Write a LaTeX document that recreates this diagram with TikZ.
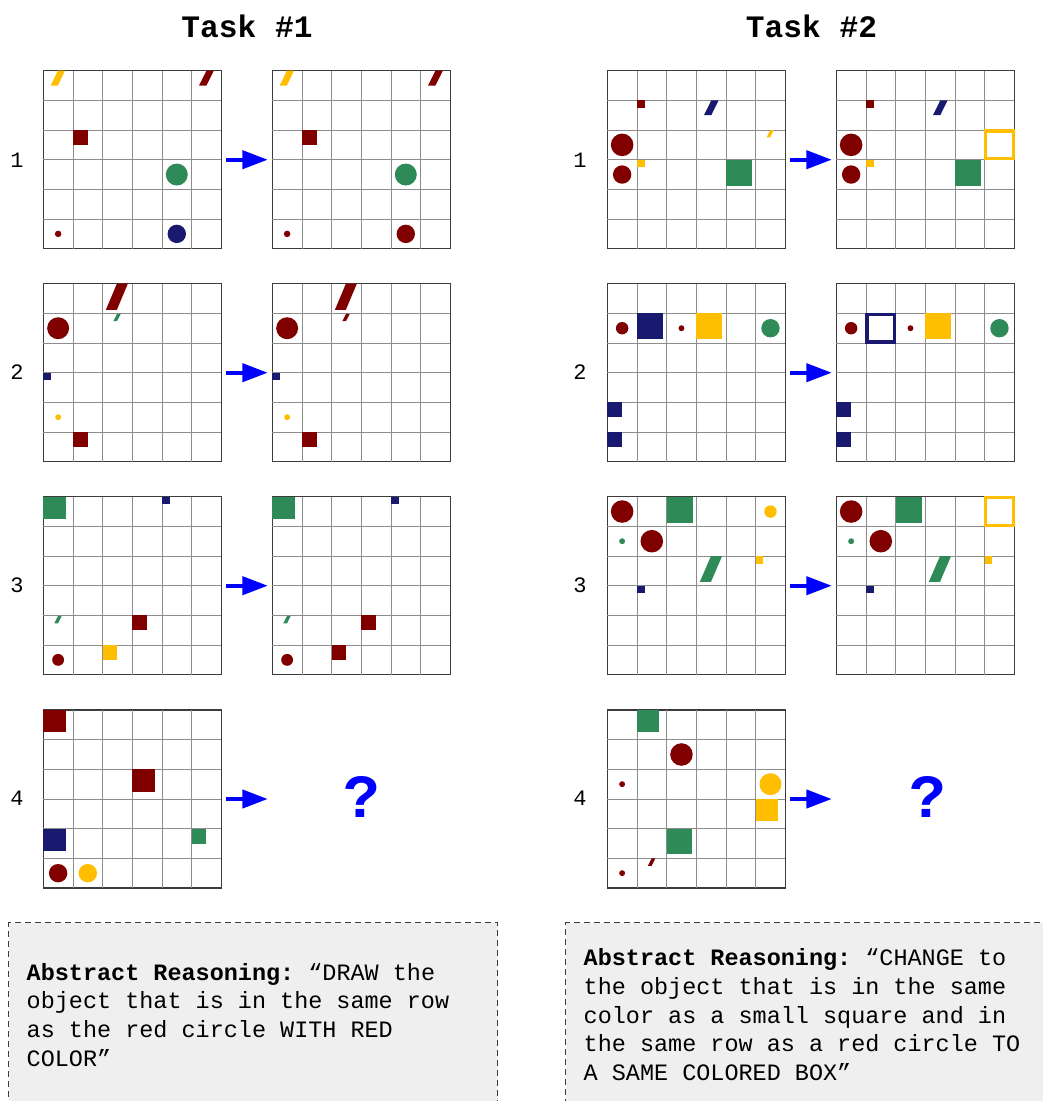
\documentclass[tikz,border=0pt]{standalone}
\usepackage{fontspec}
\setmainfont{Liberation Mono}
\usetikzlibrary{arrows.meta,positioning}
\definecolor{arcred}{RGB}{128,0,0}
\definecolor{arcgreen}{RGB}{46,139,87}
\definecolor{arcnavy}{RGB}{25,25,112}
\definecolor{arcamber}{RGB}{255,191,0}
\definecolor{arcblue}{RGB}{0,0,255}
\definecolor{arcline}{RGB}{140,140,140}
\definecolor{arcframe}{RGB}{60,60,60}
\definecolor{arcpanel}{RGB}{239,239,239}

% board contents, in cell units (y points down)
\newcommand{\cellgrid}{%
  \foreach \k in {1,...,5} {
    \draw[gridline] (\k,0) -- (\k,6);
    \draw[gridline] (0,\k) -- (6,\k);
  }}
\newcommand{\sqr}[4]{\fill[#1] (#2,#3) rectangle ++(#4,#4);}
\newcommand{\disc}[4]{\fill[#1] (#2,#3) circle[radius=#4];}
\newcommand{\slant}[5]{\fill[#1] (#2,{#3+#5}) -- ++({#4/2},0) -- ({#2+#4},#3) -- ({#2+#4/2},#3) -- cycle;}
\newcommand{\hollow}[3]{\draw[#1, line width=2.5pt] ({#2+0.03},{#3+0.03}) rectangle ({#2+0.97},{#3+0.97});}

\begin{document}
\frenchspacing
\begin{tikzpicture}[x=0.75pt, y=-0.75pt,
  board/.style={rectangle, draw=arcframe, line width=0.8pt, minimum size=133.5pt,
                inner sep=0pt, outer sep=0pt},
  cellunits/.style={x=22.25pt, y=-22.25pt},
  gridline/.style={draw=arcline, line width=0.6pt},
  rowlbl/.style={font=\fontsize{16.5pt}{17pt}\selectfont},
  title/.style={font=\fontsize{23.4pt}{24pt}\selectfont\bfseries},
  qmark/.style={font=\fontsize{46pt}{46pt}\selectfont\bfseries, text=arcblue},
  flow/.style={-{Triangle[length=19pt, width=13.5pt]}, line width=3pt, draw=arcblue,
               shorten <=3.4pt, shorten >=3.4pt},
  reason/.style={rectangle, draw=arcframe, dash pattern=on 4.5pt off 3pt, line width=1.1pt,
                 fill=arcpanel, anchor=north west, minimum height=138pt, inner xsep=13.5pt,
                 align=left, font=\fontsize{17.6pt}{21.5pt}\selectfont,
                 execute at begin node={\spaceskip=0pt\xspaceskip=0pt}}
]
\useasboundingbox (0,0) rectangle (1043,1101);
\clip (0,0) rectangle (1043,1101);

% Titles
\node[title] (task1) at (247,26) {Task \#1};
\node[title] (task2) at (811.5,26) {Task \#2};

% Row numbers
\node[rowlbl] (t1n1) at (17,160) {1};
\node[rowlbl] (t1n2) at (17,372) {2};
\node[rowlbl] (t1n3) at (17,585) {3};
\node[rowlbl] (t1n4) at (17,798) {4};
\node[rowlbl] (t2n1) at (580,160) {1};
\node[rowlbl] (t2n2) at (580,372) {2};
\node[rowlbl] (t2n3) at (580,585) {3};
\node[rowlbl] (t2n4) at (580,798) {4};

% Task 1 boards
\node[board] (t1in1) at (132.3,159.7) {};
\node[board, right=38.25pt of t1in1] (t1out1) {};
\node[board] (t1in2) at (132.3,372.7) {};
\node[board, right=38.25pt of t1in2] (t1out2) {};
\node[board] (t1in3) at (132.3,585.7) {};
\node[board, right=38.25pt of t1in3] (t1out3) {};
\node[board] (t1in4) at (132.3,799) {};
\coordinate (t1slot4) at (272.3,799);
\node[qmark] (t1q) at (362,797) {?};

\begin{scope}[shift={(t1in1.north west)}, cellunits]
  \cellgrid
  \slant{arcamber}{0.25}{0}{0.48}{0.5}
  \slant{arcred}{5.25}{0}{0.5}{0.5}
  \sqr{arcred}{1}{2}{0.5}
  \disc{arcgreen}{4.5}{3.5}{0.37}
  \disc{arcnavy}{4.5}{5.5}{0.31}
  \disc{arcred}{0.5}{5.5}{0.11}
\end{scope}
\begin{scope}[shift={(t1out1.north west)}, cellunits]
  \cellgrid
  \slant{arcamber}{0.25}{0}{0.48}{0.5}
  \slant{arcred}{5.25}{0}{0.5}{0.5}
  \sqr{arcred}{1}{2}{0.5}
  \disc{arcgreen}{4.5}{3.5}{0.37}
  \disc{arcred}{4.5}{5.5}{0.31}
  \disc{arcred}{0.5}{5.5}{0.11}
\end{scope}

\begin{scope}[shift={(t1in2.north west)}, cellunits]
  \cellgrid
  \slant{arcred}{2.11}{0}{0.74}{0.88}
  \slant{arcgreen}{2.36}{1.02}{0.25}{0.24}
  \disc{arcred}{0.5}{1.5}{0.37}
  \sqr{arcnavy}{0}{3}{0.26}
  \disc{arcamber}{0.5}{4.5}{0.1}
  \sqr{arcred}{1}{5}{0.5}
\end{scope}
\begin{scope}[shift={(t1out2.north west)}, cellunits]
  \cellgrid
  \slant{arcred}{2.11}{0}{0.74}{0.88}
  \slant{arcred}{2.36}{1.02}{0.25}{0.24}
  \disc{arcred}{0.5}{1.5}{0.37}
  \sqr{arcnavy}{0}{3}{0.26}
  \disc{arcamber}{0.5}{4.5}{0.1}
  \sqr{arcred}{1}{5}{0.5}
\end{scope}

\begin{scope}[shift={(t1in3.north west)}, cellunits]
  \cellgrid
  \sqr{arcgreen}{0}{0}{0.75}
  \sqr{arcnavy}{4}{0}{0.26}
  \slant{arcgreen}{0.37}{4.02}{0.25}{0.25}
  \sqr{arcred}{3}{4}{0.5}
  \disc{arcred}{0.5}{5.5}{0.2}
  \sqr{arcamber}{2}{5}{0.5}
\end{scope}
\begin{scope}[shift={(t1out3.north west)}, cellunits]
  \cellgrid
  \sqr{arcgreen}{0}{0}{0.75}
  \sqr{arcnavy}{4}{0}{0.26}
  \slant{arcgreen}{0.37}{4.02}{0.25}{0.25}
  \sqr{arcred}{3}{4}{0.5}
  \disc{arcred}{0.5}{5.5}{0.2}
  \sqr{arcred}{2}{5}{0.5}
\end{scope}

\begin{scope}[shift={(t1in4.north west)}, cellunits]
  \cellgrid
  \sqr{arcred}{0}{0}{0.75}
  \sqr{arcred}{3}{2}{0.75}
  \sqr{arcnavy}{0}{4}{0.75}
  \sqr{arcgreen}{5}{4}{0.5}
  \disc{arcred}{0.5}{5.5}{0.31}
  \disc{arcamber}{1.5}{5.5}{0.31}
\end{scope}

% Task 2 boards
\node[board] (t2in1) at (696.3,159.7) {};
\node[board, right=38.25pt of t2in1] (t2out1) {};
\node[board] (t2in2) at (696.3,372.7) {};
\node[board, right=38.25pt of t2in2] (t2out2) {};
\node[board] (t2in3) at (696.3,585.7) {};
\node[board, right=38.25pt of t2in3] (t2out3) {};
\node[board] (t2in4) at (696.3,799) {};
\coordinate (t2slot4) at (836.3,799);
\node[qmark] (t2q) at (928,797) {?};

\begin{scope}[shift={(t2in1.north west)}, cellunits]
  \cellgrid
  \sqr{arcred}{1}{1}{0.26}
  \slant{arcnavy}{3.26}{1}{0.49}{0.5}
  \slant{arcamber}{5.37}{2}{0.24}{0.25}
  \disc{arcred}{0.5}{2.5}{0.38}
  \disc{arcred}{0.5}{3.5}{0.31}
  \sqr{arcamber}{1}{3}{0.26}
  \sqr{arcgreen}{4}{3}{0.87}
\end{scope}
\begin{scope}[shift={(t2out1.north west)}, cellunits]
  \cellgrid
  \sqr{arcred}{1}{1}{0.26}
  \slant{arcnavy}{3.26}{1}{0.49}{0.5}
  \hollow{arcamber}{5}{2}
  \disc{arcred}{0.5}{2.5}{0.38}
  \disc{arcred}{0.5}{3.5}{0.31}
  \sqr{arcamber}{1}{3}{0.26}
  \sqr{arcgreen}{4}{3}{0.87}
\end{scope}

\begin{scope}[shift={(t2in2.north west)}, cellunits]
  \cellgrid
  \disc{arcred}{0.5}{1.5}{0.21}
  \sqr{arcnavy}{1}{1}{0.87}
  \disc{arcred}{2.5}{1.5}{0.1}
  \sqr{arcamber}{3}{1}{0.87}
  \disc{arcgreen}{5.5}{1.5}{0.31}
  \sqr{arcnavy}{0}{4}{0.5}
  \sqr{arcnavy}{0}{5}{0.5}
\end{scope}
\begin{scope}[shift={(t2out2.north west)}, cellunits]
  \cellgrid
  \disc{arcred}{0.5}{1.5}{0.21}
  \hollow{arcnavy}{1}{1}
  \disc{arcred}{2.5}{1.5}{0.1}
  \sqr{arcamber}{3}{1}{0.87}
  \disc{arcgreen}{5.5}{1.5}{0.31}
  \sqr{arcnavy}{0}{4}{0.5}
  \sqr{arcnavy}{0}{5}{0.5}
\end{scope}

\begin{scope}[shift={(t2in3.north west)}, cellunits]
  \cellgrid
  \disc{arcred}{0.5}{0.5}{0.38}
  \sqr{arcgreen}{2}{0}{0.88}
  \disc{arcamber}{5.5}{0.5}{0.21}
  \disc{arcgreen}{0.5}{1.5}{0.1}
  \disc{arcred}{1.5}{1.5}{0.38}
  \slant{arcgreen}{3.12}{2}{0.75}{0.87}
  \sqr{arcamber}{5}{2}{0.26}
  \sqr{arcnavy}{1}{3}{0.26}
\end{scope}
\begin{scope}[shift={(t2out3.north west)}, cellunits]
  \cellgrid
  \disc{arcred}{0.5}{0.5}{0.38}
  \sqr{arcgreen}{2}{0}{0.88}
  \hollow{arcamber}{5}{0}
  \disc{arcgreen}{0.5}{1.5}{0.1}
  \disc{arcred}{1.5}{1.5}{0.38}
  \slant{arcgreen}{3.12}{2}{0.75}{0.87}
  \sqr{arcamber}{5}{2}{0.26}
  \sqr{arcnavy}{1}{3}{0.26}
\end{scope}

\begin{scope}[shift={(t2in4.north west)}, cellunits]
  \cellgrid
  \sqr{arcgreen}{1}{0}{0.75}
  \disc{arcred}{2.5}{1.5}{0.38}
  \disc{arcred}{0.5}{2.5}{0.1}
  \disc{arcamber}{5.5}{2.5}{0.37}
  \sqr{arcamber}{5}{3}{0.75}
  \sqr{arcgreen}{2}{4}{0.87}
  \slant{arcred}{1.37}{5}{0.25}{0.25}
  \disc{arcred}{0.5}{5.5}{0.1}
\end{scope}

% Arrows
\draw[flow] (t1in1) -- (t1out1);
\draw[flow] (t1in2) -- (t1out2);
\draw[flow] (t1in3) -- (t1out3);
\draw[flow] (t1in4) -- (t1slot4);
\draw[flow] (t2in1) -- (t2out1);
\draw[flow] (t2in2) -- (t2out2);
\draw[flow] (t2in3) -- (t2out3);
\draw[flow] (t2in4) -- (t2slot4);

% Reasoning panels
\node[reason, minimum width=366.75pt, text width=339.75pt] (reason1) at (8,922)
  {{\bfseries Abstract Reasoning:} “DRAW the\\object that is in the same row\\as the red circle WITH RED\\COLOR”};
\node[reason, minimum width=375pt, text width=348pt] (reason2) at (565,922)
  {{\bfseries Abstract Reasoning:} “CHANGE to\\the object that is in the same\\color as a small square and in\\the same row as a red circle TO\\A SAME COLORED BOX”};
\end{tikzpicture}
\end{document}
